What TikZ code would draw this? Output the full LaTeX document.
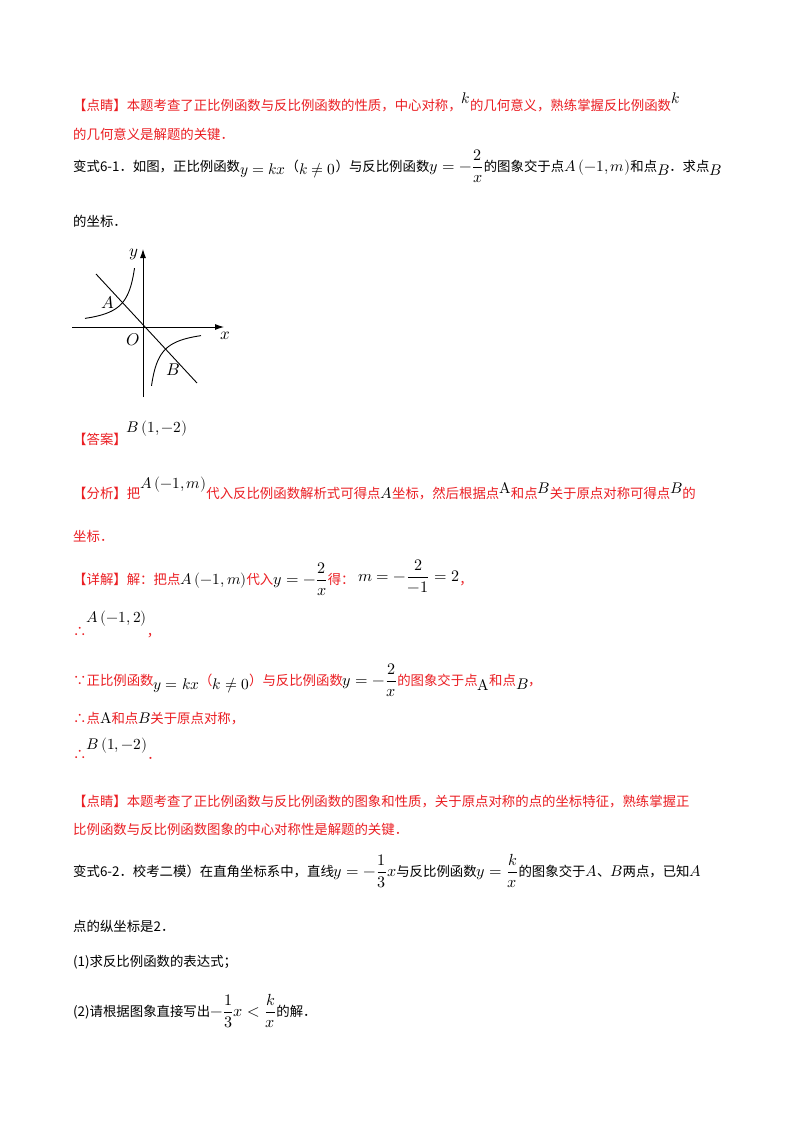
\documentclass[tikz,border=0pt]{standalone}
\usetikzlibrary{arrows.meta}
\usepackage{amsmath}
\usepackage{fontspec}
\usepackage{unicode-math}
\setmainfont{Noto Sans CJK SC}
\setmathfont{Latin Modern Math}
\definecolor{ansred}{RGB}{235,30,35}
\newcommand{\R}[1]{\textcolor{ansred}{#1}}
\newcommand{\M}[1]{\scalebox{1.15}{$#1$}}
\newcommand{\MD}[1]{\scalebox{1.2}{$\displaystyle #1$}}
\begin{document}
\begin{tikzpicture}[x=1pt,y=-1pt,
  txt/.style={anchor=base west,inner sep=0pt,font=\fontsize{13.4}{16}\selectfont},
  lbl/.style={inner sep=0pt}]
\useasboundingbox[fill=white] (0,0) rectangle (800,1132);
\node[txt] (l1) at (73,110) {\R{【点睛】本题考查了正比例函数与反比例函数的性质，中心对称，}\raisebox{6pt}{\M{k}}\R{的几何意义，熟练掌握反比例函数}\raisebox{6pt}{\M{k}}};
\node[txt] (l2) at (73,139) {\R{的几何意义是解题的关键．}};
\node[txt] (l3) at (73,171) {变式6-1．如图，正比例函数\raisebox{-3pt}{\M{y=kx}}（\raisebox{-3pt}{\M{k\neq0}}）与反比例函数\MD{y=-\frac{2}{x}}的图象交于点\M{A\left(-1,m\right)}和点\raisebox{-4pt}{\M{B}}．求点\raisebox{-4pt}{\M{B}}};
\node[txt] (l4) at (73,226) {的坐标．};
% graph
\coordinate (O) at (143,327);
\draw[line width=0.9pt,-{Latex[length=9pt,width=6pt]}] (72,327) -- (224,327);
\draw[line width=0.9pt,-{Latex[length=9pt,width=6pt]}] (143,397) -- (143,249);
\draw[line width=0.9pt] (96,274) -- (197,383);
\draw[line width=0.9pt,domain=-58:-8.5,samples=80] plot ({143+\x},{327+500/\x});
\draw[line width=0.9pt,domain=8.5:58,samples=80] plot ({143+\x},{327+500/\x});
\node[lbl] (ly) at (134,254) {\scalebox{1.7}{$y$}};
\node[lbl] (lA) at (108,302) {\scalebox{1.7}{$A$}};
\node[lbl] (lO) at (133,340) {\scalebox{1.7}{$O$}};
\node[lbl] (lx) at (225,336) {\scalebox{1.7}{$x$}};
\node[lbl] (lB) at (173,370) {\scalebox{1.7}{$B$}};
\node[txt] (l5) at (73,444) {\R{【答案】}\raisebox{12pt}{\M{B\left(1,-2\right)}}};
\node[txt] (l6) at (73,498) {\R{【分析】把}\raisebox{10pt}{\M{A\left(-1,m\right)}}\R{代入反比例函数解析式可得点}\M{A}\R{坐标，然后根据点}\raisebox{5pt}{\M{\symup{A}}}\R{和点}\raisebox{5pt}{\M{B}}\R{关于原点对称可得点}\raisebox{5pt}{\M{B}}\R{的}};
\node[txt] (l7) at (73,541) {\R{坐标．}};
\node[txt] (l8) at (73,584) {\R{【详解】解：把点}\M{A\left(-1,m\right)}\R{代入}\MD{y=-\frac{2}{x}}\R{得：}\;\raisebox{3pt}{\MD{m=-\frac{2}{-1}=2}}\R{，}};
\node[txt] (l9) at (73,636) {\R{∴}\raisebox{14pt}{\M{A\left(-1,2\right)}}\R{，}};
\node[txt] (l10) at (73,685) {\R{∵正比例函数}\raisebox{-4pt}{\M{y=kx}}\R{（}\raisebox{-4pt}{\M{k\neq0}}\R{）与反比例函数}\MD{y=-\frac{2}{x}}\R{的图象交于点}\raisebox{-5pt}{\M{\symup{A}}}\R{和点}\raisebox{-4pt}{\M{B}}\R{，}};
\node[txt] (l11) at (73,723) {\R{∴点}\M{\symup{A}}\R{和点}\M{B}\R{关于原点对称，}};
\node[txt] (l12) at (73,759) {\R{∴}\raisebox{10pt}{\M{B\left(1,-2\right)}}\R{．}};
\node[txt] (l13) at (73,806) {\R{【点睛】本题考查了正比例函数与反比例函数的图象和性质，关于原点对称的点的坐标特征，熟练掌握正}};
\node[txt] (l14) at (73,834) {\R{比例函数与反比例函数图象的中心对称性是解题的关键．}};
\node[txt] (l15) at (73,876) {变式6-2．校考二模）在直角坐标系中，直线\MD{y=-\frac{1}{3}x}与反比例函数\MD{y=\frac{k}{x}}的图象交于\M{A}、\M{B}两点，已知\M{A}};
\node[txt] (l16) at (73,931) {点的纵坐标是2．};
\node[txt] (l17) at (73,966) {(1)求反比例函数的表达式；};
\node[txt] (l18) at (73,1016) {(2)请根据图象直接写出\MD{-\frac{1}{3}x<\frac{k}{x}}的解．};
\end{tikzpicture}
\end{document}
